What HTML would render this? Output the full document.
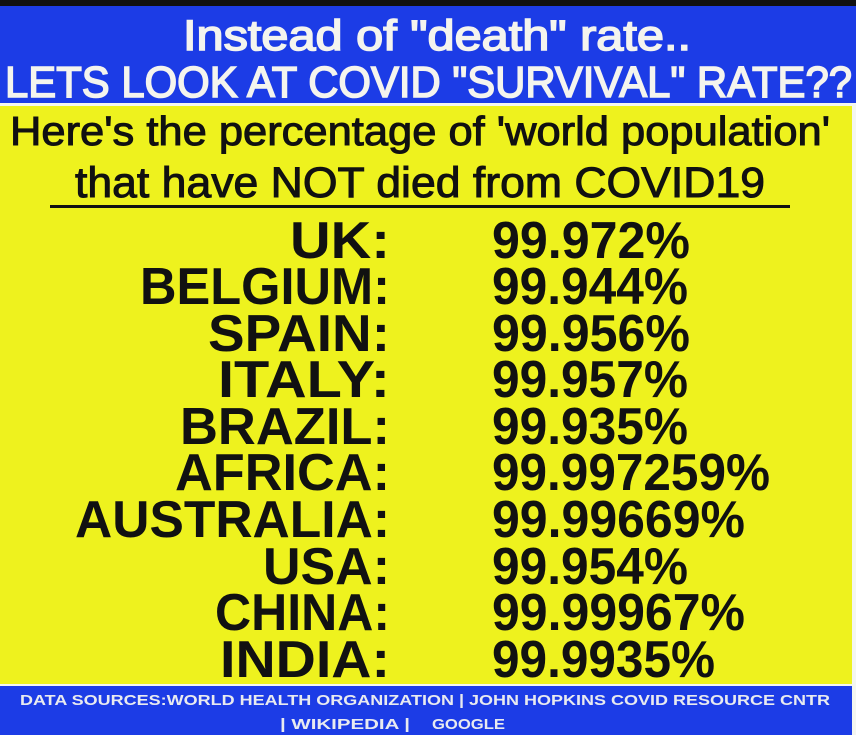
<!DOCTYPE html>
<html><head><meta charset="utf-8"><style>
html,body{margin:0;padding:0;background:#fff}
svg{display:block}
</style></head><body>
<svg width="856" height="735" viewBox="0 0 856 735" xmlns="http://www.w3.org/2000/svg">
<rect x="0" y="0" width="856" height="735" fill="#f4f6f0"/>
<rect x="0" y="0" width="856" height="6" fill="#111"/>
<rect x="0" y="6" width="856" height="97" fill="#1c3ce6"/>
<rect x="0" y="106" width="852" height="578" fill="#eef21e"/>
<rect x="0" y="686" width="852" height="49" fill="#1c3ce6"/>
<g font-family="Liberation Sans, sans-serif" fill="#f4f4ee" stroke="#f4f4ee" stroke-width="1.6">
<text x="183" y="50" font-size="43" textLength="508" lengthAdjust="spacingAndGlyphs">Instead of "death" rate..</text>
<text x="5" y="97" font-size="44" textLength="847" lengthAdjust="spacingAndGlyphs">LETS LOOK AT COVID "SURVIVAL" RATE??</text>
</g>
<g font-family="Liberation Sans, sans-serif" fill="#111" stroke="#111" stroke-width="1">
<text x="10" y="145" font-size="41" textLength="820" lengthAdjust="spacingAndGlyphs">Here's the percentage of 'world population'</text>
<text x="75" y="197" font-size="43" textLength="690" lengthAdjust="spacingAndGlyphs">that have NOT died from COVID19</text>
</g>
<rect x="50" y="205" width="740" height="3" fill="#111"/>
<g font-family="Liberation Sans, sans-serif" font-weight="bold" font-size="52" fill="#111">
<text x="290" y="258" textLength="100" lengthAdjust="spacingAndGlyphs">UK:</text>
<text x="140" y="304" textLength="250" lengthAdjust="spacingAndGlyphs">BELGIUM:</text>
<text x="208" y="351" textLength="182" lengthAdjust="spacingAndGlyphs">SPAIN:</text>
<text x="218" y="397" textLength="172" lengthAdjust="spacingAndGlyphs">ITALY:</text>
<text x="180" y="444" textLength="210" lengthAdjust="spacingAndGlyphs">BRAZIL:</text>
<text x="175" y="490" textLength="215" lengthAdjust="spacingAndGlyphs">AFRICA:</text>
<text x="75" y="537" textLength="315" lengthAdjust="spacingAndGlyphs">AUSTRALIA:</text>
<text x="263" y="584" textLength="127" lengthAdjust="spacingAndGlyphs">USA:</text>
<text x="215" y="630" textLength="175" lengthAdjust="spacingAndGlyphs">CHINA:</text>
<text x="220" y="677" textLength="170" lengthAdjust="spacingAndGlyphs">INDIA:</text>
<text x="492" y="258" textLength="198" lengthAdjust="spacingAndGlyphs">99.972%</text>
<text x="492" y="304" textLength="196" lengthAdjust="spacingAndGlyphs">99.944%</text>
<text x="492" y="351" textLength="198" lengthAdjust="spacingAndGlyphs">99.956%</text>
<text x="492" y="397" textLength="196" lengthAdjust="spacingAndGlyphs">99.957%</text>
<text x="492" y="444" textLength="196" lengthAdjust="spacingAndGlyphs">99.935%</text>
<text x="492" y="490" textLength="278" lengthAdjust="spacingAndGlyphs">99.997259%</text>
<text x="492" y="537" textLength="253" lengthAdjust="spacingAndGlyphs">99.99669%</text>
<text x="492" y="584" textLength="196" lengthAdjust="spacingAndGlyphs">99.954%</text>
<text x="492" y="630" textLength="253" lengthAdjust="spacingAndGlyphs">99.99967%</text>
<text x="492" y="677" textLength="223" lengthAdjust="spacingAndGlyphs">99.9935%</text>
</g>
<g font-family="Liberation Sans, sans-serif" font-weight="bold" font-size="15" fill="#e8eaf0">
<text x="20" y="705" textLength="810" lengthAdjust="spacingAndGlyphs">DATA SOURCES:WORLD HEALTH ORGANIZATION | JOHN HOPKINS COVID RESOURCE CNTR</text>
<text x="280" y="729" textLength="130" lengthAdjust="spacingAndGlyphs">| WIKIPEDIA |</text>
<text x="432" y="729" textLength="73" lengthAdjust="spacingAndGlyphs">GOOGLE</text>
</g>
</svg>
</body></html>
